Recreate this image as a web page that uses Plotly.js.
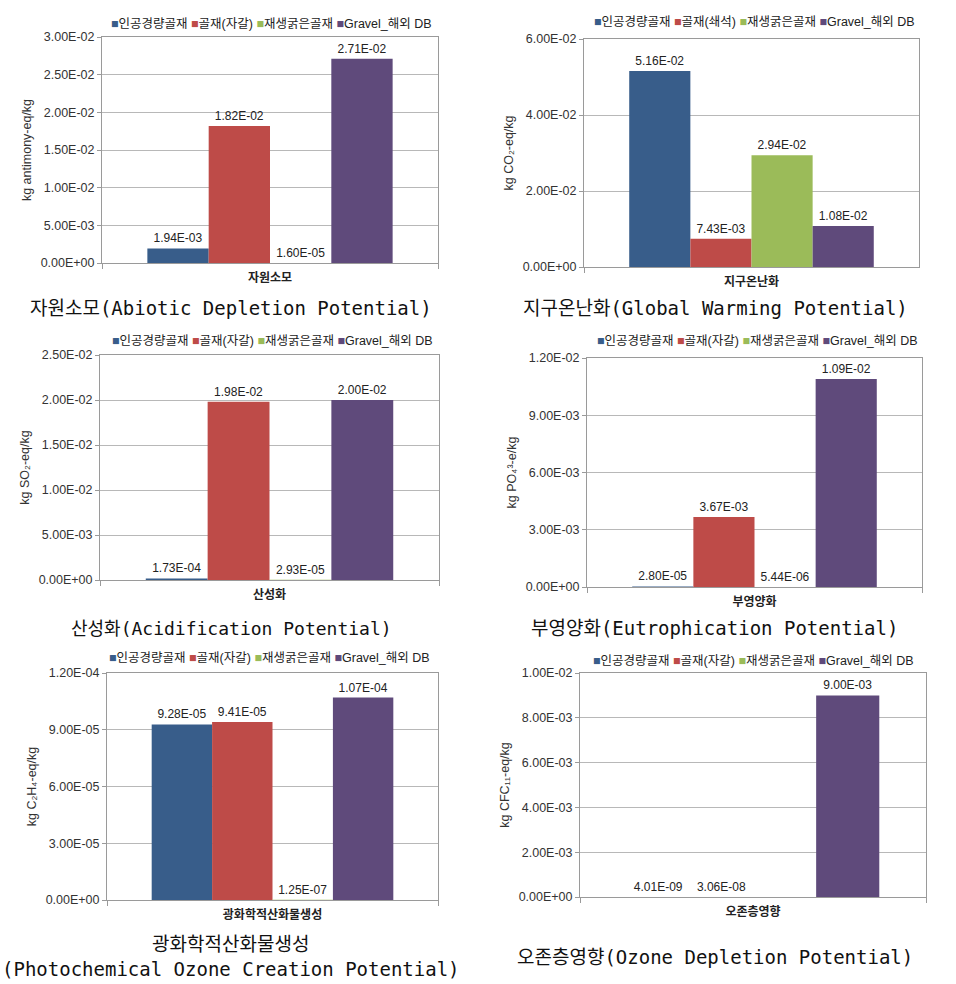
<!DOCTYPE html>
<html>
<head>
<meta charset="utf-8">
<script src="https://cdn.plot.ly/plotly-3.0.1.min.js"></script>
<style>
html,body{margin:0;padding:0;background:#fff;}
#chart{width:956px;height:984px;}
</style>
</head>
<body>
<div id="chart"></div>
<script>
// ---------- DATA ----------
const categories = ['자원소모', '지구온난화', '산성화', '부영양화', '광화학적산화물생성', '오존층영향'];
const seriesNames = ['인공경량골재', '골재(자갈)', '재생굵은골재', 'Gravel_해외 DB'];
const seriesNamesGwp = ['인공경량골재', '골재(쇄석)', '재생굵은골재', 'Gravel_해외 DB'];

const adpValues  = [1.94e-3, 1.82e-2, 1.60e-5, 2.71e-2];
const gwpValues  = [5.16e-2, 7.43e-3, 2.94e-2, 1.08e-2];
const apValues   = [1.73e-4, 1.98e-2, 2.93e-5, 2.00e-2];
const epValues   = [2.80e-5, 3.67e-3, 5.44e-6, 1.09e-2];
const pocpValues = [9.28e-5, 9.41e-5, 1.25e-7, 1.07e-4];
const odpValues  = [4.01e-9, 3.06e-8, null, 9.00e-3];

const adpTicks  = [0, 5e-3, 1e-2, 1.5e-2, 2e-2, 2.5e-2, 3e-2];
const gwpTicks  = [0, 2e-2, 4e-2, 6e-2];
const apTicks   = [0, 5e-3, 1e-2, 1.5e-2, 2e-2, 2.5e-2];
const epTicks   = [0, 3e-3, 6e-3, 9e-3, 1.2e-2];
const pocpTicks = [0, 3e-5, 6e-5, 9e-5, 1.2e-4];
const odpTicks  = [0, 2e-3, 4e-3, 6e-3, 8e-3, 1e-2];

const yTitles = [
  'kg antimony-eq/kg',
  'kg CO₂-eq/kg',
  'kg SO₂-eq/kg',
  'kg PO₄³-e/kg',
  'kg C₂H₄-eq/kg',
  'kg CFC₁₁-eq/kg'
];
const captions = [
  '자원소모(Abiotic Depletion Potential)',
  '지구온난화(Global Warming Potential)',
  '산성화(Acidification Potential)',
  '부영양화(Eutrophication Potential)',
  '광화학적산화물생성<br>(Photochemical Ozone Creation Potential)',
  '오존층영향(Ozone Depletion Potential)'
];

// ---------- STYLE / LAYOUT ----------
const colors = ['#385D8A', '#BE4B48', '#9BBB59', '#5F4A7B'];
const W = 956, H = 984;
const baseFont = 'Liberation Sans, Arial, DejaVu Sans, Noto Sans CJK KR, sans-serif';
const capFont = 'DejaVu Sans Mono, Noto Sans CJK KR, monospace';

// plot boxes in pixels [x0, x1, y0(top), y1(bottom)]
const boxes = [
  [102, 438, 37, 263],
  [584, 919, 39, 267],
  [100, 439, 355, 580],
  [587, 922, 358, 587],
  [107, 438, 673, 900],
  [580, 926, 673, 897]
];
const legendPos = [[271, 24], [754, 22], [272, 341], [757, 341], [269, 658], [753, 661]];
const captionPos = [[231, 308, 19], [715, 308, 19], [231, 628, 18], [714, 628, 19], [231, 956, 19], [715, 957, 19]];

const charts = [
  {values: adpValues, ticks: adpTicks, names: seriesNames},
  {values: gwpValues, ticks: gwpTicks, names: seriesNamesGwp},
  {values: apValues, ticks: apTicks, names: seriesNames},
  {values: epValues, ticks: epTicks, names: seriesNames},
  {values: pocpValues, ticks: pocpTicks, names: seriesNames},
  {values: odpValues, ticks: odpTicks, names: seriesNames}
];

function fmt(v) {
  const s = v.toExponential(2).toUpperCase();
  return s.replace(/E([+-])(\d)$/, 'E$10$2');
}

const traces = [];
const layout = {
  width: W, height: H,
  margin: {l: 0, r: 0, t: 0, b: 0},
  paper_bgcolor: '#fff',
  plot_bgcolor: '#fff',
  showlegend: false,
  barmode: 'group',
  bargap: 0.27,
  bargroupgap: 0,
  font: {family: baseFont, size: 12, color: '#222'},
  annotations: []
};

charts.forEach((c, i) => {
  const n = i + 1;
  const xa = n === 1 ? 'x' : 'x' + n;
  const ya = n === 1 ? 'y' : 'y' + n;
  c.values.forEach((v, s) => {
    const tr = {
      type: 'bar',
      x: [categories[i]],
      y: [v],
      name: c.names[s],
      marker: {color: colors[s], line: {width: 0}},
      xaxis: xa, yaxis: ya,
      hoverinfo: 'name+y'
    };
    if (v != null) {
      tr.text = [fmt(v)];
      tr.textposition = 'outside';
      tr.textfont = {family: baseFont, size: 12, color: '#222'};
      tr.constraintext = 'none';
      tr.cliponaxis = false;
    } else {
      tr.textposition = 'none';
    }
    traces.push(tr);
  });
  const b = boxes[i];
  const xKey = n === 1 ? 'xaxis' : 'xaxis' + n;
  const yKey = n === 1 ? 'yaxis' : 'yaxis' + n;
  layout[xKey] = {
    domain: [b[0] / W, b[1] / W],
    anchor: ya,
    type: 'category',
    range: [-0.5, 0.5],
    showline: true, mirror: true, linecolor: '#9a9a9a', linewidth: 1,
    ticks: 'outside', tickson: 'boundaries', ticklen: 5, tickcolor: '#9a9a9a',
    ticklabelstandoff: 4,
    tickfont: {family: 'Noto Sans CJK KR, sans-serif', size: 12, color: '#222', weight: 'bold'},
    fixedrange: true
  };
  layout[yKey] = {
    domain: [1 - b[3] / H, 1 - b[2] / H],
    anchor: xa,
    range: [0, c.ticks[c.ticks.length - 1]],
    tickmode: 'array',
    tickvals: c.ticks,
    ticktext: c.ticks.map(fmt),
    showline: true, mirror: true, linecolor: '#9a9a9a', linewidth: 1,
    showgrid: true, gridcolor: '#b8b8b8', gridwidth: 1,
    zeroline: false,
    ticks: 'outside', ticklen: 4, tickcolor: '#9a9a9a',
    tickfont: {family: baseFont, size: 12.5, color: '#333'},
    title: {text: yTitles[i], font: {family: baseFont, size: 12.5, color: '#333'}, standoff: 6},
    fixedrange: true
  };
  // legend line (Excel-style compact legend)
  const legText = c.names.map((nm, s) =>
    '<span style="color:' + colors[s] + '">■</span>' + nm).join(' ');
  layout.annotations.push({
    xref: 'paper', yref: 'paper',
    x: legendPos[i][0] / W, y: 1 - legendPos[i][1] / H,
    xanchor: 'center', yanchor: 'middle',
    text: legText, showarrow: false,
    font: {family: baseFont, size: 12.5, color: '#222'}
  });
  // caption
  layout.annotations.push({
    xref: 'paper', yref: 'paper',
    x: captionPos[i][0] / W, y: 1 - captionPos[i][1] / H,
    xanchor: 'center', yanchor: 'middle',
    text: captions[i], showarrow: false,
    font: {family: capFont, size: captionPos[i][2], color: '#111'}
  });
});

Plotly.newPlot('chart', traces, layout, {displayModeBar: false, staticPlot: true});
</script>
</body>
</html>
